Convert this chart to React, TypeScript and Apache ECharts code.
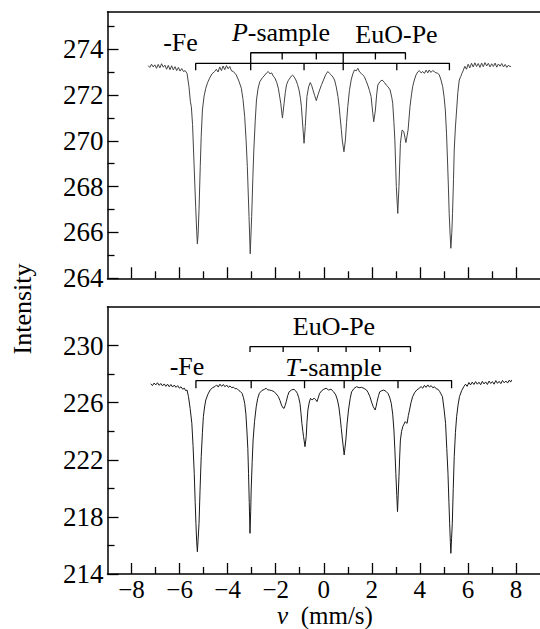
import React, { useEffect, useRef } from "react";
import * as echarts from "echarts";

// ---------- data ----------
const topVelocity = [
  -7.31, -7.24, -7.17, -7.1, -7.03, -6.96, -6.89, -6.82, -6.75, -6.68, -6.61, -6.54, -6.47, -6.4, -6.33, -6.26,
  -6.19, -6.12, -6.05, -5.98, -5.91, -5.84, -5.77, -5.69, -5.61, -5.55, -5.51, -5.46, -5.42, -5.37, -5.33, -5.29,
  -5.26, -5.23, -5.19, -5.14, -5.1, -5.05, -4.98, -4.91, -4.83, -4.75, -4.65, -4.54, -4.47, -4.4, -4.33, -4.26,
  -4.19, -4.12, -4.05, -3.98, -3.91, -3.84, -3.76, -3.64, -3.53, -3.43, -3.36, -3.29, -3.23, -3.18, -3.11, -3.06,
  -3.0, -2.95, -2.91, -2.85, -2.8, -2.73, -2.66, -2.55, -2.45, -2.38, -2.31, -2.24, -2.17, -2.1, -2.03, -1.96,
  -1.89, -1.83, -1.79, -1.72, -1.65, -1.6, -1.55, -1.48, -1.41, -1.35, -1.3, -1.23, -1.16, -1.09, -1.03, -0.97,
  -0.93, -0.86, -0.82, -0.77, -0.7, -0.63, -0.56, -0.5, -0.45, -0.38, -0.31, -0.24, -0.17, -0.09, -0.01, 0.08,
  0.17, 0.24, 0.31, 0.38, 0.45, 0.52, 0.59, 0.64, 0.68, 0.73, 0.77, 0.84, 0.9, 0.95, 1.0, 1.07,
  1.14, 1.21, 1.28, 1.35, 1.42, 1.49, 1.56, 1.63, 1.69, 1.76, 1.83, 1.9, 1.97, 2.04, 2.08, 2.15,
  2.2, 2.25, 2.34, 2.43, 2.52, 2.6, 2.68, 2.76, 2.83, 2.87, 2.92, 2.96, 3.02, 3.08, 3.13, 3.19,
  3.26, 3.33, 3.42, 3.51, 3.59, 3.65, 3.7, 3.77, 3.84, 3.91, 3.98, 4.05, 4.12, 4.19, 4.26, 4.33,
  4.39, 4.46, 4.53, 4.6, 4.67, 4.74, 4.81, 4.88, 4.95, 5.01, 5.06, 5.11, 5.15, 5.19, 5.22, 5.26,
  5.29, 5.33, 5.36, 5.4, 5.43, 5.48, 5.53, 5.58, 5.64, 5.7, 5.75, 5.8, 5.87, 5.94, 6.01, 6.08,
  6.15, 6.22, 6.29, 6.36, 6.43, 6.5, 6.57, 6.64, 6.71, 6.78, 6.85, 6.92, 6.99, 7.06, 7.13, 7.2,
  7.27, 7.34, 7.41, 7.48, 7.55, 7.62, 7.69, 7.76, 7.79,
];
const topIntensity = [
  273.28, 273.2, 273.34, 273.22, 273.31, 273.16, 273.33, 273.18, 273.36, 273.21, 273.3, 273.12, 273.29, 273.1, 273.27, 273.09,
  273.23, 273.06, 273.2, 273.04, 273.15, 273.02, 273.06, 272.94, 272.36, 271.7, 271.49, 270.7, 269.6, 268.2, 267.12, 266.1,
  265.5, 265.9, 267.0, 268.87, 270.2, 271.34, 271.95, 272.29, 272.55, 272.73, 272.92, 273.02, 273.12, 273.0, 273.22, 273.06,
  273.26, 273.1, 273.28, 273.14, 273.24, 273.05, 273.02, 272.87, 272.6, 272.29, 271.8, 271.05, 270.0, 268.87, 266.69, 265.07,
  266.69, 268.4, 269.6, 270.9, 271.78, 272.3, 272.58, 272.75, 272.87, 272.96, 273.02, 272.92, 272.96, 272.82, 272.73, 272.55,
  272.29, 271.9, 271.64, 270.99, 271.64, 272.1, 272.44, 272.62, 272.73, 272.82, 272.87, 272.78, 272.65, 272.45, 272.22, 271.85,
  271.49, 270.47, 269.89, 270.62, 271.93, 272.35, 272.54, 272.4, 272.22, 271.98, 271.75, 272.0, 272.22, 272.45, 272.65, 272.88,
  273.02, 272.94, 272.87, 272.78, 272.65, 272.35, 271.93, 271.5, 271.05, 270.5, 270.03, 269.52, 270.03, 270.8, 271.49, 272.2,
  272.65, 272.92, 273.09, 273.05, 273.16, 273.0, 272.94, 272.86, 272.8, 272.62, 272.43, 272.2, 271.93, 271.2, 270.83, 271.34,
  272.0, 272.43, 272.58, 272.65, 272.55, 272.43, 272.35, 272.22, 271.9, 271.64, 270.8, 270.03, 268.0, 266.83, 268.0, 269.89,
  270.47, 270.4, 269.92, 270.47, 271.49, 272.0, 272.36, 272.65, 272.87, 273.0, 273.06, 272.96, 273.02, 272.94, 273.08, 272.96,
  273.09, 272.98, 273.06, 273.02, 272.96, 272.95, 272.87, 272.65, 272.36, 271.9, 271.34, 270.3, 269.16, 267.9, 266.83, 265.9,
  265.31, 266.0, 266.83, 268.3, 269.6, 270.6, 271.34, 272.1, 272.65, 272.8, 272.94, 273.05, 273.25, 273.12, 273.34, 273.18,
  273.38, 273.22, 273.4, 273.24, 273.37, 273.2, 273.39, 273.23, 273.41, 273.26, 273.38, 273.22, 273.36, 273.24, 273.39, 273.21,
  273.35, 273.25, 273.37, 273.22, 273.33, 273.2, 273.3, 273.22, 273.26,
];

const bottomVelocity = [
  -7.2, -7.13, -7.06, -6.99, -6.92, -6.85, -6.78, -6.71, -6.64, -6.57, -6.5, -6.43, -6.36, -6.29, -6.22, -6.15,
  -6.08, -6.01, -5.94, -5.87, -5.8, -5.75, -5.69, -5.63, -5.56, -5.49, -5.44, -5.39, -5.35, -5.32, -5.29, -5.26,
  -5.23, -5.19, -5.15, -5.1, -5.05, -5.01, -4.96, -4.91, -4.82, -4.73, -4.63, -4.53, -4.46, -4.39, -4.32, -4.25,
  -4.18, -4.11, -4.04, -3.97, -3.9, -3.83, -3.76, -3.69, -3.62, -3.55, -3.48, -3.4, -3.34, -3.29, -3.24, -3.2,
  -3.16, -3.13, -3.1, -3.07, -3.04, -3.02, -2.98, -2.94, -2.88, -2.81, -2.75, -2.68, -2.58, -2.47, -2.4, -2.33,
  -2.26, -2.16, -2.06, -1.98, -1.89, -1.82, -1.76, -1.7, -1.65, -1.61, -1.56, -1.5, -1.44, -1.34, -1.24, -1.17,
  -1.1, -1.04, -0.99, -0.95, -0.91, -0.87, -0.84, -0.78, -0.73, -0.7, -0.66, -0.6, -0.55, -0.48, -0.44, -0.39,
  -0.33, -0.28, -0.22, -0.17, -0.08, 0.0, 0.1, 0.2, 0.3, 0.41, 0.5, 0.57, 0.63, 0.68, 0.73, 0.78,
  0.85, 0.92, 0.97, 1.03, 1.1, 1.16, 1.26, 1.37, 1.47, 1.58, 1.68, 1.78, 1.85, 1.92, 1.99, 2.06,
  2.14, 2.18, 2.22, 2.28, 2.33, 2.42, 2.5, 2.59, 2.67, 2.74, 2.81, 2.87, 2.92, 2.96, 3.0, 3.04,
  3.07, 3.1, 3.13, 3.16, 3.19, 3.24, 3.29, 3.34, 3.39, 3.43, 3.47, 3.52, 3.57, 3.63, 3.7, 3.78,
  3.87, 3.96, 4.05, 4.12, 4.19, 4.26, 4.33, 4.4, 4.47, 4.54, 4.61, 4.68, 4.75, 4.82, 4.88, 4.94,
  5.01, 5.07, 5.12, 5.17, 5.21, 5.24, 5.27, 5.29, 5.32, 5.35, 5.39, 5.43, 5.48, 5.53, 5.59, 5.65,
  5.74, 5.83, 5.9, 5.97, 6.04, 6.11, 6.18, 6.25, 6.32, 6.39, 6.46, 6.53, 6.6, 6.67, 6.74, 6.81,
  6.88, 6.95, 7.02, 7.09, 7.16, 7.23, 7.3, 7.37, 7.44, 7.51, 7.58, 7.65, 7.72, 7.78, 7.82,
];
const bottomIntensity = [
  227.33, 227.2, 227.38, 227.25, 227.4, 227.22, 227.35, 227.18, 227.32, 227.15, 227.3, 227.12, 227.28, 227.1, 227.24, 227.08,
  227.2, 227.02, 227.12, 226.95, 227.02, 226.85, 226.89, 226.43, 225.6, 224.56, 223.0, 221.05, 219.0, 217.55, 216.3, 215.56,
  216.4, 217.55, 219.8, 222.22, 223.9, 225.02, 225.7, 226.19, 226.6, 226.89, 227.05, 227.13, 227.25, 227.1, 227.3, 227.15,
  227.28, 227.12, 227.24, 227.08, 227.18, 227.05, 227.1, 226.98, 227.0, 226.88, 226.8, 226.66, 226.35, 225.96, 225.2, 224.09,
  222.8, 221.05, 219.0, 216.85, 218.4, 219.88, 221.8, 223.39, 224.7, 225.72, 226.3, 226.66, 226.85, 226.94, 227.02, 226.9,
  226.89, 226.85, 226.77, 226.62, 226.43, 226.15, 225.84, 225.65, 225.61, 225.8, 226.08, 226.5, 226.77, 226.9, 226.94, 226.84,
  226.66, 226.35, 225.96, 225.3, 224.56, 224.0, 223.62, 222.92, 223.62, 224.6, 225.49, 226.05, 226.31, 226.19, 226.28, 226.31,
  226.2, 226.08, 226.4, 226.66, 226.85, 226.94, 227.02, 226.89, 226.95, 226.77, 226.55, 226.19, 225.7, 225.02, 224.2, 223.39,
  222.34, 223.39, 224.5, 225.49, 226.3, 226.77, 227.0, 227.13, 227.05, 227.08, 227.0, 226.89, 226.7, 226.43, 226.05, 225.72,
  225.49, 225.75, 226.08, 226.5, 226.77, 226.85, 226.89, 226.8, 226.66, 226.4, 225.96, 225.2, 224.09, 222.7, 221.05, 219.5,
  218.37, 219.6, 220.82, 222.2, 223.39, 224.0, 224.33, 224.5, 224.68, 224.6, 224.56, 225.1, 225.49, 226.0, 226.43, 226.7,
  226.89, 227.0, 227.13, 227.02, 227.22, 227.08, 227.25, 227.1, 227.2, 227.05, 227.12, 226.98, 226.95, 226.8, 226.62, 226.43,
  225.5, 224.56, 222.8, 221.05, 219.0, 217.55, 216.2, 215.45, 216.5, 217.55, 220.0, 222.22, 223.9, 225.02, 225.85, 226.43,
  226.85, 227.13, 227.3, 227.15, 227.42, 227.25, 227.45, 227.28, 227.48, 227.3, 227.44, 227.26, 227.5, 227.32, 227.46, 227.28,
  227.52, 227.35, 227.48, 227.3, 227.55, 227.36, 227.5, 227.34, 227.56, 227.4, 227.52, 227.38, 227.58, 227.45, 227.6,
];

// line positions marked by the brackets (mm/s)
const topFeLines = [-5.33, -3.04, -0.82, 0.81, 3.04, 5.23];
const topEuOLines = [-3.04, -1.73, -0.31, 0.81, 2.15, 3.4];
const bottomFeLines = [-5.32, -3.02, -0.8, 0.85, 3.09, 5.32];
const bottomEuOLines = [-3.07, -1.69, -0.23, 0.93, 2.33, 3.61];

// tick values
const xMajorTicks = [-8, -6, -4, -2, 0, 2, 4, 6, 8];
const xMinorTicks = [-7, -5, -3, -1, 1, 3, 5, 7];
const topYMajorTicks = [264, 266, 268, 270, 272, 274];
const topYMinorTicks = [265, 267, 269, 271, 273, 275];
const bottomYMajorTicks = [214, 218, 222, 226, 230];
const bottomYMinorTicks = [216, 220, 224, 228];

// ---------- styling ----------
const FONT = "Liberation Serif";
const FS = 26;
const FS_Y = 27;
const FS_X = 25;
const FS_NAME = 25;

// bracket levels (in data units of each panel)
const TOP_FE_Y = 273.38;
const TOP_FE_TICK = 273.08;
const TOP_EUO_Y = 273.84;
const TOP_EUO_TICK = 273.55;
const BOT_FE_Y = 227.55;
const BOT_FE_TICK = 227.02;
const BOT_EUO_Y = 229.93;
const BOT_EUO_TICK = 229.55;

function bracket(xs: number[], yLine: number, tickEnds: number[]) {
  const pts: number[][] = [];
  xs.forEach((x, i) => {
    if (i === 0) {
      pts.push([x, tickEnds[i]]);
      pts.push([x, yLine]);
    } else {
      pts.push([x, yLine]);
      pts.push([x, tickEnds[i]]);
      if (i < xs.length - 1) pts.push([x, yLine]);
    }
  });
  return pts;
}

function zip(a: number[], b: number[]) {
  return a.map((v, i) => [v, b[i]]);
}

const axisLineStyle = { color: "#000", width: 1.5 };

function xAxes(gridIndex: number, labels: boolean) {
  return [
    {
      type: "value",
      gridIndex,
      position: "bottom",
      min: -9,
      max: 9,
      axisLine: { show: true, onZero: false, lineStyle: axisLineStyle },
      axisTick: { show: true, inside: true, length: 11, customValues: xMajorTicks, lineStyle: { color: "#000", width: 1.3 } },
      axisLabel: {
        show: labels,
        customValues: xMajorTicks,
        margin: 3,
        fontFamily: FONT,
        fontSize: FS_X,
        color: "#000",
        formatter: (v: number) => (v < 0 ? "\u2212" + Math.abs(v) : String(v)),
      },
      splitLine: { show: false },
    },
    {
      type: "value",
      gridIndex,
      position: "bottom",
      min: -9,
      max: 9,
      axisLine: { show: false, onZero: false },
      axisTick: { show: true, inside: true, length: 7, customValues: xMinorTicks, lineStyle: { color: "#000", width: 1.3 } },
      axisLabel: { show: false },
      splitLine: { show: false },
    },
    {
      type: "value",
      gridIndex,
      position: "top",
      min: -9,
      max: 9,
      axisLine: { show: true, onZero: false, lineStyle: axisLineStyle },
      axisTick: { show: false },
      axisLabel: { show: false },
      splitLine: { show: false },
    },
  ];
}

function yAxes(gridIndex: number, min: number, max: number, major: number[], minor: number[]) {
  return [
    {
      type: "value",
      gridIndex,
      position: "left",
      min,
      max,
      axisLine: { show: true, onZero: false, lineStyle: axisLineStyle },
      axisTick: { show: true, inside: true, length: 11, customValues: major, lineStyle: { color: "#000", width: 1.3 } },
      axisLabel: { show: true, customValues: major, margin: 4, fontFamily: FONT, fontSize: FS_Y, color: "#000" },
      splitLine: { show: false },
    },
    {
      type: "value",
      gridIndex,
      position: "left",
      min,
      max,
      axisLine: { show: false, onZero: false },
      axisTick: { show: true, inside: true, length: 7, customValues: minor, lineStyle: { color: "#000", width: 1.3 } },
      axisLabel: { show: false },
      splitLine: { show: false },
    },
  ];
}

function textEl(text: string, x: number, y: number, rich?: boolean, rotation?: number, size = FS) {
  const base: any = {
    type: "text",
    x,
    y,
    rotation: rotation || 0,
    silent: true,
    style: {
      text,
      fill: "#000",
      fontFamily: FONT,
      fontSize: size,
      align: "center",
      verticalAlign: "middle",
    },
  };
  if (rich) {
    base.style.rich = {
      i: { fontFamily: FONT, fontSize: size, fontStyle: "italic", fill: "#000" },
      n: { fontFamily: FONT, fontSize: size, fill: "#000" },
    };
  }
  return base;
}

export default function App() {
  const ref = useRef<HTMLDivElement>(null);

  useEffect(() => {
    if (!ref.current) return;
    const chart = echarts.init(ref.current, undefined, { renderer: "svg" });

    const lineSeries = (data: number[][], xi: number, yi: number, color: string, width: number, z = 2) => ({
      type: "line",
      xAxisIndex: xi,
      yAxisIndex: yi,
      data,
      symbol: "none",
      showSymbol: false,
      smooth: false,
      silent: true,
      z,
      lineStyle: { color, width },
    });

    const topEuOTicks = topEuOLines.map((x) => (topFeLines.includes(x) ? TOP_FE_Y : TOP_EUO_TICK));

    chart.setOption({
      animation: false,
      backgroundColor: "#fff",
      textStyle: { fontFamily: FONT },
      grid: [
        { left: 107.5, top: 11.7, width: 18 * 24.06, height: 266.6 },
        { left: 107.5, top: 306.7, width: 18 * 24.3, height: 267.3 },
      ],
      xAxis: [...xAxes(0, false), ...xAxes(1, true)],
      yAxis: [
        ...yAxes(0, 264, 275.63, topYMajorTicks, topYMinorTicks),
        ...yAxes(1, 214, 232.73, bottomYMajorTicks, bottomYMinorTicks),
      ],
      series: [
        lineSeries(zip(topVelocity, topIntensity), 0, 0, "#444", 1),
        lineSeries(bracket(topFeLines, TOP_FE_Y, topFeLines.map(() => TOP_FE_TICK)), 0, 0, "#000", 1.3, 3),
        lineSeries(bracket(topEuOLines, TOP_EUO_Y, topEuOTicks), 0, 0, "#000", 1.3, 3),
        lineSeries(zip(bottomVelocity, bottomIntensity), 3, 2, "#1a1a1a", 1),
        lineSeries(bracket(bottomFeLines, BOT_FE_Y, bottomFeLines.map(() => BOT_FE_TICK)), 3, 2, "#000", 1.3, 3),
        lineSeries(bracket(bottomEuOLines, BOT_EUO_Y, bottomEuOLines.map(() => BOT_EUO_TICK)), 3, 2, "#000", 1.3, 3),
      ],
      graphic: [
        textEl("-Fe", 180.5, 42.5),
        textEl("{i|P}{n|-sample}", 281, 32, true),
        textEl("EuO-Pe", 396.5, 34),
        textEl("EuO-Pe", 334, 326.7),
        textEl("-Fe", 187, 366.3),
        textEl("{i|T}{n|-sample}", 333.5, 367.3, true),
        textEl("{i|v}{n|  (mm/s)}", 325, 615.5, true, 0, FS_NAME),
        textEl("Intensity", 22, 309, false, Math.PI / 2),
      ],
    });

    return () => chart.dispose();
  }, []);

  return (
    <div
      ref={ref}
      style={{ position: "absolute", left: 0, top: 0, width: 540, height: 629, overflow: "hidden", background: "#fff" }}
    />
  );
}
